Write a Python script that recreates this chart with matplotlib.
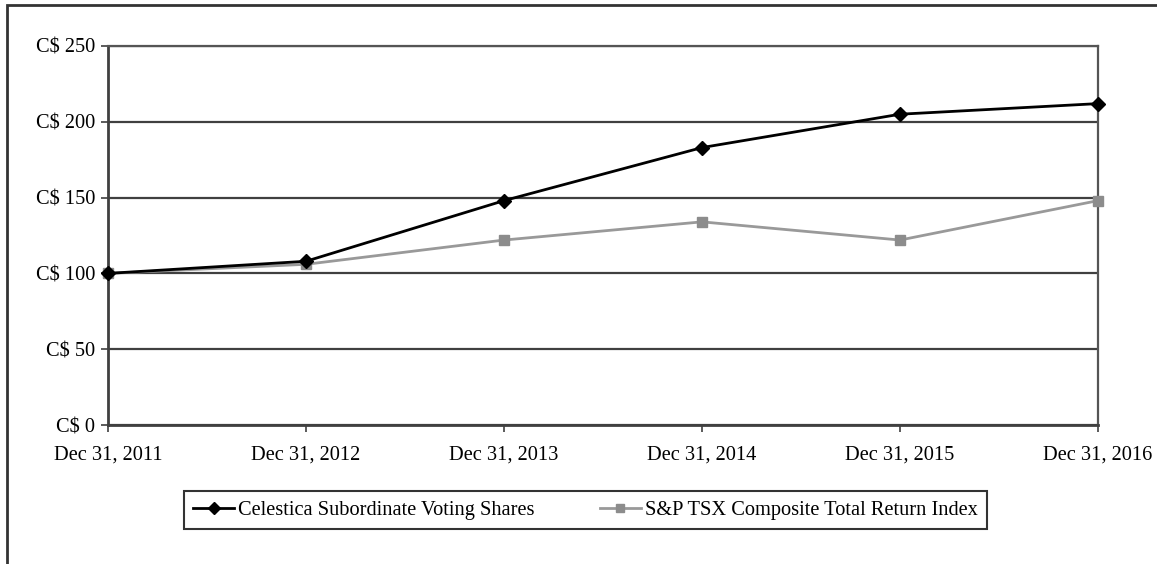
import matplotlib.pyplot as plt
from matplotlib.patches import Rectangle

# data
dates = ["Dec 31, 2011", "Dec 31, 2012", "Dec 31, 2013",
         "Dec 31, 2014", "Dec 31, 2015", "Dec 31, 2016"]
celestica = [100, 108, 148, 183, 205, 212]
tsx = [100, 106, 122, 134, 122, 148]
yticks = [0, 50, 100, 150, 200, 250]

plt.rcParams['font.family'] = ['Liberation Serif', 'DejaVu Serif']

W, H = 1157, 564
fig = plt.figure(figsize=(W / 100, H / 100), dpi=100)
ax = fig.add_axes([108 / W, 1 - 425 / H, (1098 - 108) / W, (425 - 46) / H])

x = list(range(len(dates)))
ax.plot(x, tsx, color='#999999', lw=2, marker='s', ms=7.5,
        mfc='#8c8c8c', mec='#8c8c8c', label='S&P TSX Composite Total Return Index',
        zorder=3, clip_on=False)
ax.plot(x, celestica, color='black', lw=2, marker='D', ms=7.5,
        mfc='black', mec='black', label='Celestica Subordinate Voting Shares',
        zorder=4, clip_on=False)

ax.set_xlim(0, len(dates) - 1)
ax.set_ylim(0, 250)
ax.set_yticks(yticks)
ax.set_yticklabels([f"C$ {v}" for v in yticks])
ax.set_xticks(x)
ax.set_xticklabels(dates)
ax.yaxis.grid(True, color='#404040', lw=1.6)
ax.set_axisbelow(True)
for s in ['left', 'bottom']:
    ax.spines[s].set_color('#404040')
    ax.spines[s].set_linewidth(2)
for s in ['top', 'right']:
    ax.spines[s].set_color('#555555')
    ax.spines[s].set_linewidth(1.6)
ax.tick_params(direction='out', length=5, width=1.2, color='#404040',
               labelsize=14.7)
ax.tick_params(axis='y', pad=4)
ax.tick_params(axis='x', pad=10)

handles, labels = ax.get_legend_handles_labels()
leg = fig.legend(handles[::-1], labels[::-1], loc='center',
                 bbox_to_anchor=((183 + 988) / 2 / W, 1 - 510 / H),
                 ncol=2, fontsize=14.7, frameon=True, fancybox=False,
                 edgecolor='black', handlelength=2.0, handletextpad=0.2,
                 columnspacing=3.2, borderpad=0.45, markerscale=0.75)
leg.get_frame().set_linewidth(1.5)

# outer frame (only top and left edges visible in the picture)
fig.patches.append(Rectangle((7 / W, -0.1), 1.2, 1 - 5 / H + 0.1,
                             transform=fig.transFigure, fill=False,
                             edgecolor='#333333', lw=2))

fig.savefig('out.png', dpi=100)
